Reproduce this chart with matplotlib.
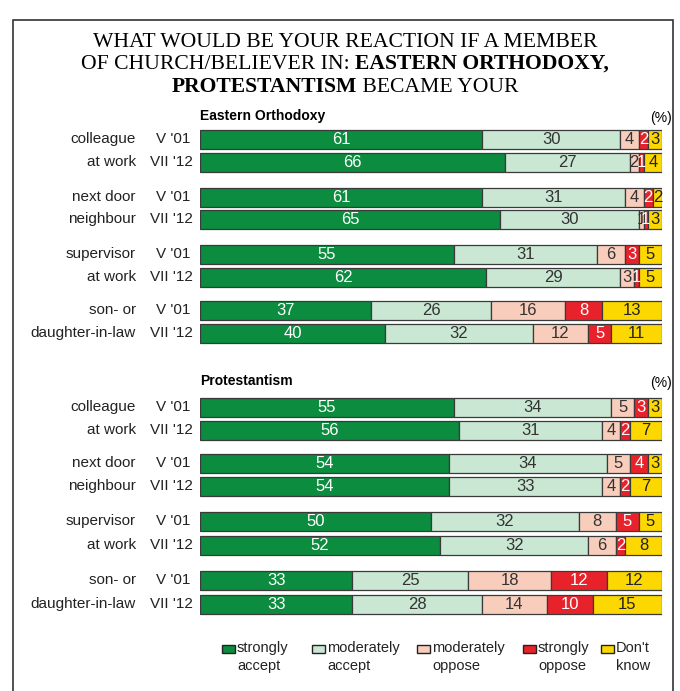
import numpy as np
import matplotlib.pyplot as plt
from matplotlib.patches import Rectangle

# answer shares (%), order: strongly accept, moderately accept,
# moderately oppose, strongly oppose, don't know
orthodoxy = [
    [61, 30, 4, 2, 3],
    [66, 27, 2, 1, 4],
    [61, 31, 4, 2, 2],
    [65, 30, 1, 1, 3],
    [55, 31, 6, 3, 5],
    [62, 29, 3, 1, 5],
    [37, 26, 16, 8, 13],
    [40, 32, 12, 5, 11],
]
protestantism = [
    [55, 34, 5, 3, 3],
    [56, 31, 4, 2, 7],
    [54, 34, 5, 4, 3],
    [54, 33, 4, 2, 7],
    [50, 32, 8, 5, 5],
    [52, 32, 6, 2, 8],
    [33, 25, 18, 12, 12],
    [33, 28, 14, 10, 15],
]
groups = [("colleague", "at work"), ("next door", "neighbour"),
          ("supervisor", "at work"), ("son- or", "daughter-in-law")]
waves = ["V '01", "VII '12"]
answers = ["strongly\naccept", "moderately\naccept", "moderately\noppose",
           "strongly\noppose", "Don't\nknow"]
title_lines = [
    [("WHAT WOULD BE YOUR REACTION IF A MEMBER", "normal")],
    [("OF CHURCH/BELIEVER IN: ", "normal"), ("EASTERN ORTHODOXY,", "bold")],
    [("PROTESTANTISM", "bold"), (" BECAME YOUR", "normal")],
]

colors = ["#0b8c3e", "#c9e7d3", "#f8cdbb", "#e8222a", "#fcd800"]
txtcol = ["white", "#333333", "#333333", "white", "#222222"]
edge = "#3a3a3a"

W, H = 680, 691
fig = plt.figure(figsize=(W / 100, H / 100), dpi=100)
# bar area: x 0..100 maps to pixels 200..662, y in pixels from the top
ax = fig.add_axes([200 / W, 0, 462 / W, 1])
ax.set_xlim(0, 100)
ax.set_ylim(H, 0)
ax.axis("off")

sans = "Liberation Sans"
serif = "Liberation Serif"


def px(x):
    # pixel column -> data x
    return (x - 200) / 4.62


def draw_block(data, ys, title, title_y):
    ax.text(0, title_y, title, fontsize=10, fontweight="bold", family=sans,
            ha="left", va="center")
    ax.text(px(672), title_y + 2, "(%)", fontsize=10, family=sans,
            ha="right", va="center")
    for row, y in zip(data, ys):
        left = 0
        for k, v in enumerate(row):
            ax.barh(y, v, left=left, height=19, color=colors[k],
                    edgecolor=edge, linewidth=0.9)
            cx = left + v / 2
            ax.text(cx, y + 0.5, str(v), ha="center", va="center",
                    fontsize=12, family=sans, color=txtcol[k])
            left += v
    for i, (l1, l2) in enumerate(groups):
        y1, y2 = ys[2 * i], ys[2 * i + 1]
        ax.text(px(136), y1, l1, ha="right", va="center", fontsize=11,
                family=sans, color="#222222")
        ax.text(px(136), y2, l2, ha="right", va="center", fontsize=11,
                family=sans, color="#222222")
        ax.text(px(190), y1, waves[0], ha="right", va="center",
                fontsize=11, family=sans, color="#222222")
        ax.text(px(193), y2, waves[1], ha="right", va="center",
                fontsize=11, family=sans, color="#222222")


ys_eo = [139, 162, 197, 219, 254, 277, 310, 333]
ys_pr = [407, 430, 463, 486, 521, 545, 580, 604]
draw_block(orthodoxy, ys_eo, "Eastern Orthodoxy", 116)
draw_block(protestantism, ys_pr, "Protestantism", 381)

# title: serif, mixed regular/bold pieces centred on one line
renderer = fig.canvas.get_renderer()
for line, y in zip(title_lines, [42, 64, 87]):
    arts = [ax.text(0, y, s, fontsize=15.6, family=serif, fontweight=wt,
                    ha="left", va="center") for s, wt in line]
    widths = [a.get_window_extent(renderer).width for a in arts]
    x = 345 - sum(widths) / 2
    for a, w in zip(arts, widths):
        a.set_x(px(x))
        x += w

# legend
leg_x = [222, 312, 417, 523, 601]
for k, lx in enumerate(leg_x):
    ax.add_patch(Rectangle((px(lx), 645), 13 / 4.62, 8, facecolor=colors[k],
                           edgecolor="#222222", linewidth=1.0, clip_on=False))
    ax.text(px(lx + 15), 657, answers[k], ha="left", va="center",
            fontsize=10.5, family=sans, color="#222222", linespacing=1.3)

# frame around the chart
fig.patches.append(Rectangle((13 / W, -0.05), 660 / W, 1.05 - 20 / H,
                             transform=fig.transFigure, fill=False,
                             edgecolor="#333333", linewidth=1.2))

fig.savefig("out.png", dpi=100)
